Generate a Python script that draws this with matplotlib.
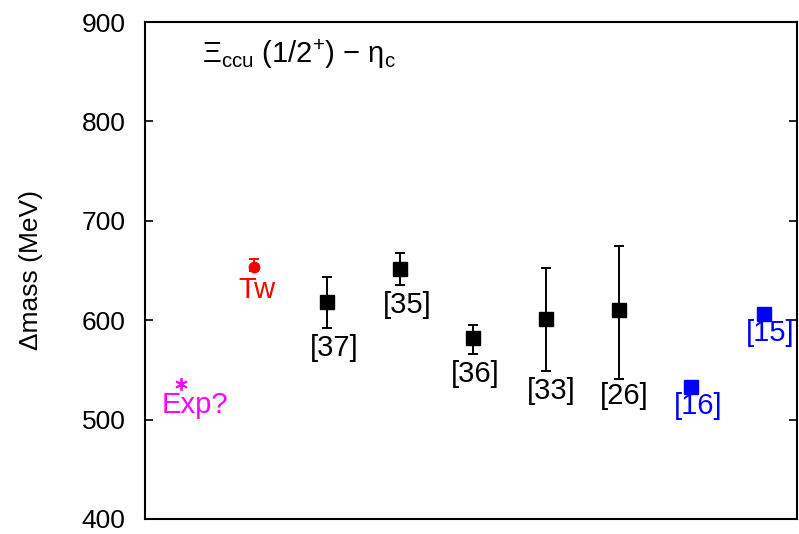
import matplotlib
matplotlib.use("Agg")
import matplotlib.pyplot as plt

plt.rcParams['font.family'] = ['Liberation Sans', 'DejaVu Sans']
plt.rcParams['mathtext.fontset'] = 'custom'
plt.rcParams['mathtext.rm'] = 'Liberation Sans'
plt.rcParams['mathtext.it'] = 'Liberation Sans'

labels = ["Exp?", "Tw", "[37]", "[35]", "[36]", "[33]", "[26]", "[16]", "[15]"]
values = [536, 654, 618, 652, 582, 601, 610, 533, 606]
err_up = [0, 8, 25, 16, 13, 52, 65, 0, 0]
err_lo = [0, 4, 26, 17, 16, 52, 69, 0, 0]
colors = ["#ff00ff", "#ff0000", "black", "black", "black", "black", "black", "#0000ff", "#0000ff"]
markers = ["asterisk", "o", "s", "s", "s", "s", "s", "s", "s"]
# label offsets (in points, relative to the point)
label_dx = [10, 2, 5, 5, 2, 4, 4, 5, 4]
label_dy = [-15, -17, -33, -26.5, -26, -52, -62, -13.5, -13.5]

fig = plt.figure(figsize=(7.99, 5.34), dpi=100)
ax = fig.add_axes([145/799, 1-519/534, (797-145)/799, (519-22)/534])

xs = list(range(1, len(labels) + 1))
for x, v, eu, el, c, m, lab, dx, dy in zip(xs, values, err_up, err_lo, colors, markers, labels, label_dx, label_dy):
    if eu or el:
        ax.errorbar([x], [v], yerr=[[el], [eu]], fmt='none', ecolor=c, elinewidth=1.4,
                    capsize=3.5, capthick=1.4)
    if m == "asterisk":
        ax.plot([x], [v], marker=(6, 2, 0), color=c, markersize=9, markeredgewidth=1.3,
                linestyle='none')
    else:
        ms = 9.5 if m == 's' else 7.5
        ax.plot([x], [v], marker=m, color=c, markersize=ms, linestyle='none')
    ax.annotate(lab, (x, v), xytext=(dx, dy), textcoords='offset points',
                ha='center', va='center', color=c, fontsize=21)

ax.set_xlim(0.5, 9.45)
ax.set_ylim(400, 900)
ax.set_yticks([400, 500, 600, 700, 800, 900])
ax.set_xticks([])
ax.tick_params(axis='y', direction='in', length=6, width=1.2, labelsize=19, pad=14,
               right=True)
for s in ax.spines.values():
    s.set_linewidth(1.5)
ax.set_ylabel("Δmass (MeV)", fontsize=19, labelpad=28)

ax.text(0.087, 0.935, r"$\Xi_{ccu}$ (1/2$^{+}$) $-$ $\eta_{c}$", transform=ax.transAxes,
        fontsize=21, ha='left', va='center')

fig.savefig("out.png", dpi=100)
